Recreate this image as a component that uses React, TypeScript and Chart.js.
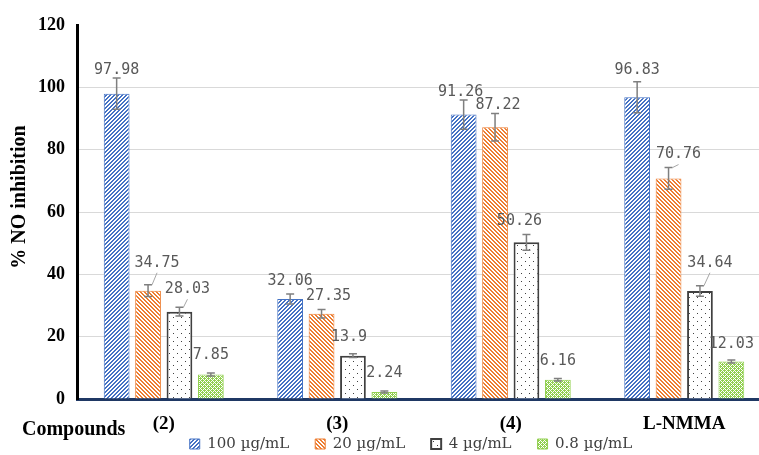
import React, { useEffect, useRef } from 'react';
import { Chart, registerables } from 'chart.js';

Chart.register(...registerables);

const CATEGORIES = ['(2)', '(3)', '(4)', 'L-NMMA'];
const SERIES_NAMES = ['100 µg/mL', '20 µg/mL', '4 µg/mL', '0.8 µg/mL'];

const VALUES_100 = [97.98, 32.06, 91.26, 96.83];
const VALUES_20 = [34.75, 27.35, 87.22, 70.76];
const VALUES_4 = [28.03, 13.9, 50.26, 34.64];
const VALUES_08 = [7.85, 2.24, 6.16, 12.03];

const ERR_100 = [5, 1.6, 4.7, 5];
const ERR_20 = [1.9, 1.4, 4.4, 3.5];
const ERR_4 = [1.4, 0.6, 2.5, 1.7];
const ERR_08 = [0.5, 0.3, 0.4, 0.5];

const Y_MIN = 0;
const Y_MAX = 120;
const Y_STEP = 20;
const Y_TITLE = '% NO inhibition';
const X_TITLE = 'Compounds';

// data-label nudges (px) relative to the top of each error bar
const LABEL_DX = [
  [0, 0, -3, 0],
  [9, 7, 3, 10],
  [8, -4, -7, 10],
  [0, 0, 0, 0],
];
const LABEL_DY = [
  [-8, -13, -8, -12],
  [-22, -13, -8, -13],
  [-18, -17, -13, -23],
  [-18, -18, -17, -16],
];

const SERIF = "'Liberation Serif', 'Times New Roman', serif";

function makePattern(ctx: CanvasRenderingContext2D, kind: string) {
  const size = 8;
  const c = document.createElement('canvas');
  c.width = size;
  c.height = size;
  const g = c.getContext('2d')!;
  g.fillStyle = '#ffffff';
  g.fillRect(0, 0, size, size);
  for (let y = 0; y < size; y++) {
    for (let x = 0; x < size; x++) {
      let color: string | null = null;
      if (kind === 'up' && (x + y) % 4 < 2) color = '#4472C4';
      if (kind === 'down' && (x - y + 8) % 4 < 2) color = '#ED7D31';
      if (kind === 'dots' && ((x === 1 && y === 1) || (x === 5 && y === 5))) color = '#404040';
      if (kind === 'lattice' && !((x + y) % 4 === 0 || (x - y + 8) % 4 === 0)) color = '#92D050';
      if (color) {
        g.fillStyle = color;
        g.fillRect(x, y, 1, 1);
      }
    }
  }
  return ctx.createPattern(c, 'repeat')!;
}

const annotatePlugin = {
  id: 'annotate',
  afterLayout(chart: any) {
    const lg = chart.legend;
    if (!lg) return;
    const p = lg.options.labels.padding;
    lg.top = 444 - p - 7.5;
    lg.bottom = chart.height;
    lg.height = lg.bottom - lg.top;
    lg.left += 25.5;
    lg.right += 25.5;
  },
  afterDatasetsDraw(chart: any) {
    const { ctx } = chart;
    const yScale = chart.scales.y;
    chart.data.datasets.forEach((ds: any, i: number) => {
      const meta = chart.getDatasetMeta(i);
      meta.data.forEach((bar: any, j: number) => {
        const v = ds.data[j];
        const e = ds.errors[j];
        const x = bar.x;
        const yt = yScale.getPixelForValue(v + e);
        const yb = yScale.getPixelForValue(v - e);
        ctx.save();
        ctx.strokeStyle = '#7f7f7f';
        ctx.lineWidth = 1.5;
        ctx.beginPath();
        ctx.moveTo(x, yt);
        ctx.lineTo(x, yb);
        ctx.moveTo(x - 4, yt);
        ctx.lineTo(x + 4, yt);
        ctx.moveTo(x - 4, yb);
        ctx.lineTo(x + 4, yb);
        ctx.stroke();
        const dx = LABEL_DX[i][j];
        const lx = x + dx;
        const ly = yt + LABEL_DY[i][j];
        if (dx >= 8) {
          ctx.strokeStyle = '#a6a6a6';
          ctx.lineWidth = 1;
          ctx.beginPath();
          ctx.moveTo(lx, ly + 10);
          ctx.lineTo(x + 4, yt);
          ctx.stroke();
        }
        ctx.font = "15px 'DejaVu Sans Mono', monospace";
        ctx.fillStyle = '#595959';
        ctx.textAlign = 'center';
        ctx.textBaseline = 'middle';
        ctx.fillText(String(v), lx, ly);
        ctx.restore();
      });
    });
  },
  afterDraw(chart: any) {
    const { ctx } = chart;
    ctx.save();
    ctx.font = `bold 20px ${SERIF}`;
    ctx.fillStyle = '#000000';
    ctx.textAlign = 'left';
    ctx.textBaseline = 'middle';
    ctx.fillText(X_TITLE, 22, 430);
    ctx.translate(20, 197);
    ctx.rotate(-Math.PI / 2);
    ctx.textAlign = 'center';
    ctx.fillText(Y_TITLE, 0, 0);
    ctx.restore();
  },
};

export default function App() {
  const ref = useRef<HTMLCanvasElement>(null);

  useEffect(() => {
    const canvas = ref.current!;
    const ctx = canvas.getContext('2d')!;
    const chart = new Chart(ctx, {
      type: 'bar',
      data: {
        labels: CATEGORIES,
        datasets: [
          {
            label: SERIES_NAMES[0],
            data: VALUES_100,
            errors: ERR_100,
            backgroundColor: makePattern(ctx, 'up'),
            borderColor: '#4472C4',
            borderWidth: 1,
          },
          {
            label: SERIES_NAMES[1],
            data: VALUES_20,
            errors: ERR_20,
            backgroundColor: makePattern(ctx, 'down'),
            borderColor: '#ED7D31',
            borderWidth: 1,
          },
          {
            label: SERIES_NAMES[2],
            data: VALUES_4,
            errors: ERR_4,
            backgroundColor: makePattern(ctx, 'dots'),
            borderColor: '#404040',
            borderWidth: 2,
          },
          {
            label: SERIES_NAMES[3],
            data: VALUES_08,
            errors: ERR_08,
            backgroundColor: makePattern(ctx, 'lattice'),
            borderColor: '#92D050',
            borderWidth: 1,
          },
        ] as any,
      },
      options: {
        responsive: false,
        animation: false,
        datasets: { bar: { categoryPercentage: 0.724, barPercentage: 0.82 } },
        layout: { padding: { left: 0, right: 0, top: 25, bottom: 0 } },
        plugins: {
          legend: {
            position: 'bottom',
            maxHeight: 19,
            labels: {
              boxWidth: 10,
              boxHeight: 10,
              padding: 26,
              color: '#404040',
              font: { family: "'DejaVu Serif', serif", size: 15 },
            },
          },
          tooltip: { enabled: false },
        },
        scales: {
          x: {
            grid: { display: false, drawTicks: false },
            border: { display: true, color: '#1F3864', width: 3 },
            ticks: { padding: 14, color: '#000000', font: { family: SERIF, size: 19, weight: 'bold' } },
            afterFit: (s: any) => {
              s.height = 37;
            },
          },
          y: {
            min: Y_MIN,
            max: Y_MAX,
            ticks: {
              stepSize: Y_STEP,
              padding: 12,
              color: '#000000',
              font: { family: SERIF, size: 18, weight: 'bold' },
            },
            grid: {
              drawTicks: false,
              lineWidth: 1,
              color: (c: any) => (c.tick && c.tick.value === Y_MAX ? 'rgba(0,0,0,0)' : '#d9d9d9'),
            },
            border: { display: true, color: '#000000', width: 3 },
            title: { display: false },
            afterFit: (s: any) => {
              s.width = 77;
            },
          },
        },
      } as any,
      plugins: [annotatePlugin],
    });
    return () => chart.destroy();
  }, []);

  return (
    <div style={{ position: 'absolute', left: 0, top: 0, width: 759, height: 455, overflow: 'hidden', background: '#fff' }}>
      <canvas ref={ref} width={771} height={455} style={{ display: 'block' }} />
    </div>
  );
}
